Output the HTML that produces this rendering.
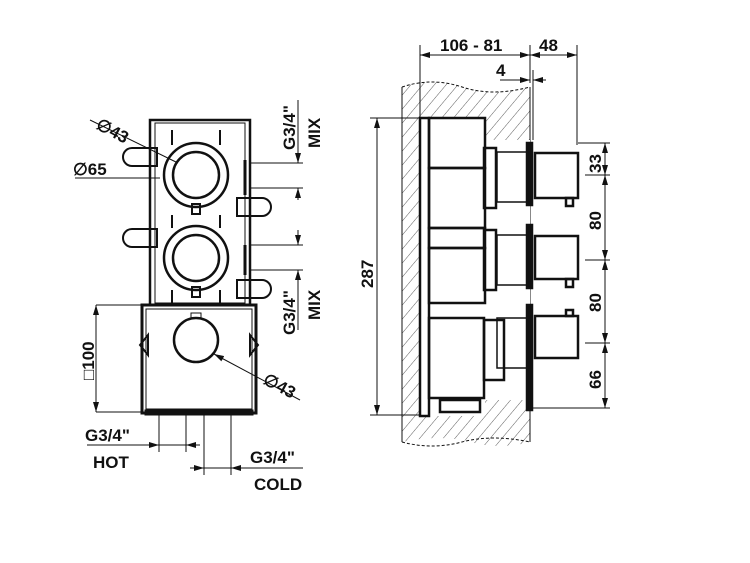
<!DOCTYPE html>
<html><head><meta charset="utf-8"><style>
html,body{margin:0;padding:0;background:#fff;width:750px;height:563px;overflow:hidden}
text{font-family:"Liberation Sans",Arial,sans-serif;font-weight:bold;fill:#111}
</style></head><body>
<svg width="750" height="563" viewBox="0 0 750 563" xmlns="http://www.w3.org/2000/svg">
<defs>
<marker id="a" viewBox="0 0 10 6" refX="10" refY="3" markerWidth="10" markerHeight="6" orient="auto-start-reverse" markerUnits="userSpaceOnUse"><path d="M0,0L10,3L0,6z" fill="#111"/></marker>
<pattern id="h" width="9" height="9" patternUnits="userSpaceOnUse" patternTransform="rotate(40)"><line x1="0" y1="0" x2="0" y2="9" stroke="#333" stroke-width="0.8"/></pattern>
</defs>
<g stroke="#111" fill="none" stroke-width="1">
<!-- LEFT VIEW -->
<rect x="150" y="120" width="100" height="185" stroke-width="2.5"/>
<rect x="155" y="123" width="90" height="180" stroke-width="1"/>
<rect x="142" y="305" width="114" height="108" stroke-width="3"/>
<rect x="146" y="309" width="106" height="100" stroke-width="1"/>
<circle cx="196" cy="175" r="32" stroke-width="2.5"/>
<circle cx="196" cy="175" r="23" stroke-width="2.5"/>
<circle cx="196" cy="258" r="32" stroke-width="2.5"/>
<circle cx="196" cy="258" r="23" stroke-width="2.5"/>
<circle cx="196" cy="340" r="22" stroke-width="2.5"/>
<rect x="191" y="313" width="10" height="5"/>
<rect x="192" y="204" width="8" height="10" stroke-width="2"/>
<rect x="192" y="287" width="8" height="10" stroke-width="2"/>
<g stroke-width="2">
<path d="M132,148 h25 v18 h-25 a9,9 0 0 1 0,-18z"/>
<path d="M132,229 h25 v18 h-25 a9,9 0 0 1 0,-18z"/>
<path d="M262,198 h-25 v18 h25 a9,9 0 0 0 0,-18z"/>
<path d="M262,280 h-25 v18 h25 a9,9 0 0 0 0,-18z"/>
<path d="M140,345 l8,-10 v20z M258,345 l-8,-10 v20z"/>
<line x1="172" y1="130" x2="172" y2="145"/><line x1="220" y1="130" x2="220" y2="145"/>
<line x1="172" y1="215" x2="172" y2="228"/><line x1="220" y1="215" x2="220" y2="228"/>
<line x1="172" y1="290" x2="172" y2="303"/><line x1="220" y1="290" x2="220" y2="303"/>
<line x1="245" y1="160" x2="245" y2="195" stroke-width="3"/>
<line x1="245" y1="245" x2="245" y2="275" stroke-width="3"/>
</g>
<rect x="145" y="410" width="108" height="5" fill="#111"/>
<line x1="90" y1="120" x2="178" y2="163"/>
<line x1="75" y1="178" x2="160" y2="178"/>
<line x1="214" y1="354" x2="300" y2="400" marker-start="url(#a)"/>
<line x1="96" y1="305" x2="142" y2="305"/><line x1="96" y1="412" x2="142" y2="412"/>
<line x1="96" y1="305" x2="96" y2="412" marker-start="url(#a)" marker-end="url(#a)"/>
<line x1="250" y1="163" x2="303" y2="163"/><line x1="250" y1="188" x2="303" y2="188"/>
<line x1="298" y1="100" x2="298" y2="163" marker-end="url(#a)"/><line x1="298" y1="188" x2="298" y2="200" marker-start="url(#a)"/>
<line x1="250" y1="245" x2="303" y2="245"/><line x1="250" y1="270" x2="303" y2="270"/>
<line x1="298" y1="230" x2="298" y2="245" marker-end="url(#a)"/><line x1="298" y1="270" x2="298" y2="330" marker-start="url(#a)"/>
<line x1="159" y1="415" x2="159" y2="452"/><line x1="186" y1="415" x2="186" y2="452"/>
<line x1="204" y1="415" x2="204" y2="475"/><line x1="231" y1="415" x2="231" y2="475"/>
<line x1="87" y1="445" x2="159" y2="445" marker-end="url(#a)"/><line x1="159" y1="445" x2="186" y2="445"/><line x1="186" y1="445" x2="200" y2="445" marker-start="url(#a)"/>
<line x1="190" y1="468" x2="204" y2="468" marker-end="url(#a)"/><line x1="204" y1="468" x2="231" y2="468"/><line x1="231" y1="468" x2="303" y2="468" marker-start="url(#a)"/>

<!-- RIGHT VIEW wall -->
<path d="M402,87 q30,-10 60,0 t68,0 V442 q-30,8 -60,0 t-68,0z" fill="url(#h)" stroke="none"/>
<path d="M402,87 q30,-10 60,0 t68,0 M402,442 q30,8 60,0 t68,0" stroke-dasharray="3,2"/>
<line x1="402" y1="87" x2="402" y2="442"/>
<line x1="530" y1="87" x2="530" y2="442"/>
<rect x="420" y="118" width="65" height="298" fill="#fff" stroke="none"/>
<rect x="485" y="140" width="45" height="260" fill="#fff" stroke="none"/>
<g stroke-width="2.5">
<rect x="420" y="118" width="9" height="298"/>
<rect x="429" y="118" width="56" height="50"/>
<rect x="429" y="168" width="56" height="60"/>
<rect x="429" y="228" width="56" height="20"/>
<rect x="429" y="248" width="56" height="55"/>
<rect x="429" y="318" width="55" height="80"/>
<rect x="484" y="148" width="12" height="60"/>
<rect x="484" y="230" width="12" height="60"/>
<rect x="484" y="320" width="20" height="60"/>
<rect x="497" y="152" width="30" height="50" stroke-width="1.5"/>
<rect x="497" y="235" width="30" height="50" stroke-width="1.5"/>
<rect x="497" y="318" width="30" height="50" stroke-width="1.5"/>
<rect x="527" y="143" width="5" height="62" fill="#111"/>
<rect x="527" y="225" width="5" height="63" fill="#111"/>
<rect x="527" y="305" width="5" height="105" fill="#111"/>
<rect x="535" y="153" width="43" height="45"/>
<rect x="535" y="236" width="43" height="43"/>
<rect x="535" y="316" width="43" height="42"/>
<rect x="566" y="198" width="7" height="8"/>
<rect x="566" y="279" width="7" height="8"/>
<rect x="566" y="310" width="7" height="6"/>
<rect x="440" y="400" width="40" height="12"/>
</g>
<line x1="420" y1="45" x2="420" y2="117"/>
<line x1="530" y1="45" x2="530" y2="83"/>
<line x1="577" y1="45" x2="577" y2="145"/>
<line x1="533" y1="70" x2="533" y2="140"/>
<line x1="420" y1="55" x2="530" y2="55" marker-start="url(#a)" marker-end="url(#a)"/>
<line x1="530" y1="55" x2="577" y2="55" marker-start="url(#a)" marker-end="url(#a)"/>
<line x1="500" y1="80" x2="530" y2="80" marker-end="url(#a)"/><line x1="533" y1="80" x2="546" y2="80" marker-start="url(#a)"/>
<line x1="370" y1="118" x2="420" y2="118"/><line x1="370" y1="415" x2="420" y2="415"/>
<line x1="377" y1="118" x2="377" y2="415" marker-start="url(#a)" marker-end="url(#a)"/>
<line x1="578" y1="143" x2="610" y2="143"/>
<line x1="585" y1="175" x2="610" y2="175"/>
<line x1="585" y1="260" x2="610" y2="260"/>
<line x1="585" y1="343" x2="610" y2="343"/>
<line x1="533" y1="408" x2="610" y2="408"/>
<line x1="605" y1="143" x2="605" y2="175" marker-start="url(#a)" marker-end="url(#a)"/>
<line x1="605" y1="175" x2="605" y2="260" marker-start="url(#a)" marker-end="url(#a)"/>
<line x1="605" y1="260" x2="605" y2="343" marker-start="url(#a)" marker-end="url(#a)"/>
<line x1="605" y1="343" x2="605" y2="408" marker-start="url(#a)" marker-end="url(#a)"/>
</g>
<g font-size="17">
<text x="95" y="128" transform="rotate(28 95 128)">∅43</text>
<text x="73" y="175">∅65</text>
<text x="262" y="383" transform="rotate(28 262 383)">∅43</text>
<text x="85" y="441">G3/4"</text>
<text x="93" y="468">HOT</text>
<text x="250" y="463">G3/4"</text>
<text x="254" y="490">COLD</text>
<text transform="translate(295,150) rotate(-90)">G3/4"</text>
<text transform="translate(320,148) rotate(-90)">MIX</text>
<text transform="translate(295,335) rotate(-90)">G3/4"</text>
<text transform="translate(320,320) rotate(-90)">MIX</text>
<text transform="translate(94,380) rotate(-90)">□100</text>
<text x="440" y="51">106 - 81</text>
<text x="539" y="51">48</text>
<text x="496" y="76">4</text>
<text transform="translate(373,288) rotate(-90)">287</text>
<text transform="translate(601,173) rotate(-90)">33</text>
<text transform="translate(601,230) rotate(-90)">80</text>
<text transform="translate(601,312) rotate(-90)">80</text>
<text transform="translate(601,389) rotate(-90)">66</text>
</g>
</svg>
</body></html>
